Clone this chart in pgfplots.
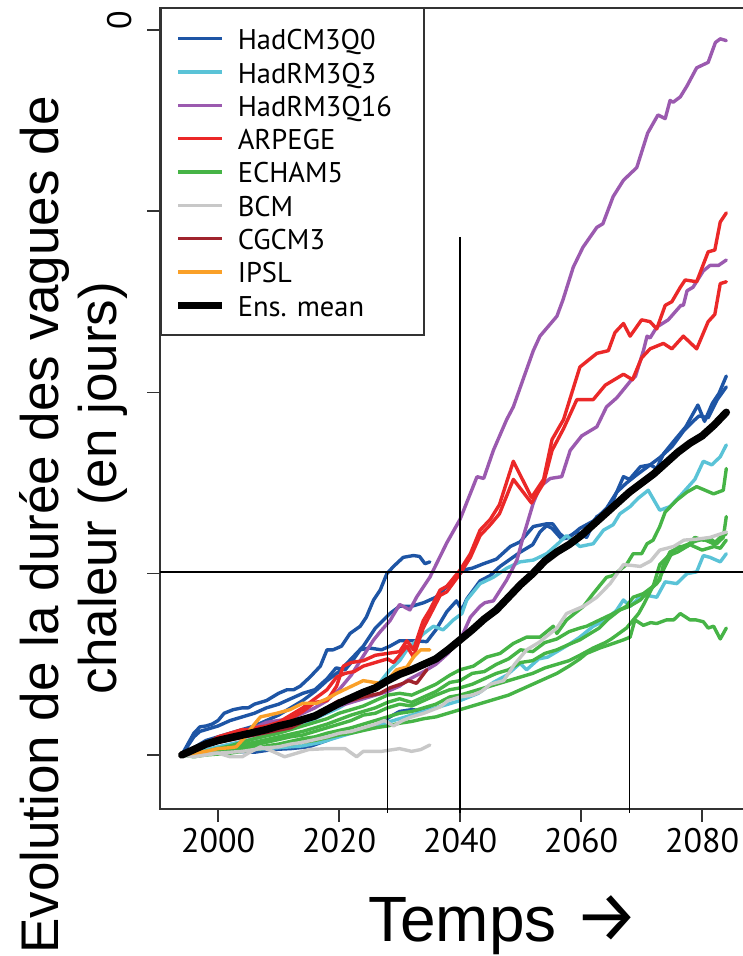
\documentclass[border=0pt]{standalone}
\usepackage{pgfplots}
\pgfplotsset{compat=1.18}
\usepackage{fontspec}
\setmainfont{Liberation Sans}
\newfontfamily\ptsans{PT Sans}
\newfontfamily\arrowfont{Fira Sans}
\definecolor{hadcm}{RGB}{30,85,165}
\definecolor{hadrmA}{RGB}{90,195,215}
\definecolor{hadrmB}{RGB}{155,90,175}
\definecolor{arpege}{RGB}{235,40,40}
\definecolor{echam}{RGB}{70,180,70}
\definecolor{bcm}{RGB}{200,200,200}
\definecolor{cgcm}{RGB}{160,35,45}
\definecolor{ipsl}{RGB}{250,160,40}
\pgfplotsset{mod/.style={line width=3.4pt, line join=round, line cap=round, forget plot}}
\begin{document}
\begin{tikzpicture}
\useasboundingbox (0pt,0pt) rectangle (742pt,956pt);
\begin{axis}[
  at={(160pt,147pt)}, anchor=south west,
  scale only axis, width=602.6pt, height=801pt,
  xmin=1990.4, xmax=2090, ymin=-2.98, ymax=41.2,
  xtick={2000,2020,2040,2060,2080},
  xticklabels={2000,2020,2040,2060,2080},
  ytick={0,10,20,30,40},
  yticklabels={,,,,{\phantom{4}0}},
  tick align=outside, tick pos=left,
  major tick length=13pt,
  tick style={line width=1.6pt, color=black!80},
  axis line style={line width=1.6pt, color=black!80},
  ticklabel style={font=\ptsans\fontsize{34}{34}\selectfont},
  xticklabel shift=3pt,
  yticklabel style={rotate=90, anchor=south},
  yticklabel shift=12pt,
  clip=false,
  legend cell align=left,
  legend image code/.code={\draw[#1] (0pt,0pt) -- (44pt,0pt);},
  legend style={at={(0,1)}, anchor=north west, draw=black!80, line width=1.5pt,
    fill=white, inner xsep=14pt, inner ysep=17pt, row sep=7.3pt, column sep=12pt,
    font=\ptsans\fontsize{28.5}{28.5}\selectfont,
    nodes={inner sep=0pt, text height=24pt, text depth=2pt}},
]
\addlegendimage{hadcm, line width=3.4pt}
\addlegendentry{\makebox[172pt][l]{HadCM3Q0}}
\addlegendimage{hadrmA, line width=3.4pt}
\addlegendentry{HadRM3Q3}
\addlegendimage{hadrmB, line width=3.4pt}
\addlegendentry{HadRM3Q16}
\addlegendimage{arpege, line width=3.4pt}
\addlegendentry{ARPEGE}
\addlegendimage{echam, line width=3.4pt}
\addlegendentry{ECHAM5}
\addlegendimage{bcm, line width=3.4pt}
\addlegendentry{BCM}
\addlegendimage{cgcm, line width=3.4pt}
\addlegendentry{CGCM3}
\addlegendimage{ipsl, line width=3.4pt}
\addlegendentry{IPSL}
\addlegendimage{black, line width=7pt}
\addlegendentry{Ens. mean}

% HadCM3Q0
\addplot[mod, hadcm] coordinates {(1994,0)(1995,0.6)(1996,1.2)(1997,1.55)(1998,1.6)(1999,1.7)(2000,1.9)(2001,2.3)(2002.5,2.5)(2004,2.6)(2005,2.6)(2006,2.8)(2008,3.0)(2010,3.4)(2011.4,3.6)(2012.5,3.6)(2013.6,3.8)(2015.2,4.3)(2016.9,4.9)(2018,5.8)(2019,5.8)(2020.4,6.0)(2021.8,6.7)(2023.5,7.1)(2024.5,7.6)(2025.7,8.55)(2026.8,9.1)(2027.9,10.0)(2029,10.4)(2030.6,10.9)(2032.3,11.0)(2033.3,10.95)(2034.2,10.55)(2035,10.65)};
\addplot[mod, hadcm] coordinates {(1994,0)(1995,0.5)(1996,1.0)(1997,1.3)(1998,1.4)(2000,1.6)(2002,1.9)(2004,2.1)(2006,2.3)(2008,2.6)(2010,2.8)(2012,3.1)(2014,3.4)(2016,3.6)(2018,4.2)(2019.5,4.8)(2021,4.7)(2022,5.1)(2023.5,5.8)(2025,5.9)(2027,5.8)(2028.4,6.0)(2030,6.3)(2032.3,6.3)(2034.5,6.25)(2036,6.9)(2037.8,7.9)(2039.4,8.5)(2040.3,8.0)(2041.1,8.6)(2043.3,9.6)(2045,9.9)(2046.6,10.4)(2048.3,10.8)(2050,11.2)(2052,11.6)(2053.2,12.3)(2054.3,12.65)(2055.2,12.5)(2056.8,11.9)(2058,12.0)(2059.8,12.5)(2062,12.9)(2064.2,13.6)(2065.9,14.5)(2067.5,15.0)(2069,15.4)(2071,15.9)(2073,16.4)(2075,17.0)(2077,17.9)(2078.5,18.4)(2079.5,18.7)(2081,18.6)(2082.5,19.6)(2084,20.3)};
\addplot[mod, hadcm] coordinates {(1994,0)(1996,0.4)(1998,0.8)(2000,1.0)(2002,1.2)(2004,1.4)(2006,1.6)(2008,1.9)(2010,2.2)(2012,2.6)(2014,3.0)(2016,3.5)(2018,4.1)(2020,4.6)(2022,5.3)(2024,6.0)(2026,7.0)(2028.4,7.8)(2030,8.2)(2032,8.2)(2034,8.4)(2036,8.7)(2037.8,9.3)(2039,9.6)(2040.5,10.2)(2042,10.3)(2043.9,10.55)(2046,10.8)(2048.3,11.5)(2049.9,11.75)(2052.1,12.6)(2054.3,12.75)(2055.3,12.75)(2056.5,12.2)(2057.4,11.95)(2059.3,12.3)(2060.9,12.0)(2062.6,13.15)(2063.7,13.3)(2065.3,14.05)(2067,15.35)(2068,15.2)(2069.8,15.9)(2071.4,16.0)(2072.5,15.8)(2073.6,16.6)(2075.3,17.3)(2077.3,18.1)(2079.3,19.3)(2080.4,18.4)(2081.7,19.4)(2082.8,19.95)(2084,20.9)};
\addplot[mod, hadcm] coordinates {(1994,0)(1996,0.1)(1998,0.05)(2000,0.1)(2003,0.2)(2006,0.15)(2009,0.3)(2012,0.35)(2015,0.45)(2018,0.8)(2021,1.2)(2024,1.45)(2026,1.6)(2028.4,2.1)(2030,2.4)(2032,2.5)(2033.5,2.45)(2035,2.6)};
% HadRM3Q3
\addplot[mod, hadrmA] coordinates {(1994,0)(1996,0.15)(1998,0.3)(2000,0.45)(2002,0.6)(2004,0.75)(2006,0.9)(2008,1.1)(2010,1.3)(2012,1.5)(2014,1.7)(2016,2.0)(2018,2.3)(2020,2.6)(2022,3.0)(2024,3.3)(2025,3.6)(2026.5,3.9)(2028.4,4.7)(2030,5.2)(2031,5.7)(2032.3,6.15)(2034,6.7)(2035.6,7.1)(2037.2,6.9)(2038.9,7.45)(2040.3,7.8)(2041.1,8.55)(2043.3,9.45)(2045.5,9.8)(2047.7,10.3)(2049.9,10.65)(2052.1,10.75)(2054.3,11.1)(2056,11.6)(2057.6,12.1)(2059.8,11.5)(2062,11.65)(2063.7,12.4)(2065.3,12.7)(2066.4,13.3)(2068.1,13.7)(2069.4,14.15)(2071.1,14.6)(2073,13.5)(2074.7,13.7)(2076.4,14.3)(2078.8,15.2)(2080.2,16.2)(2081.6,16.0)(2083,16.45)(2084,17.1)};
\addplot[mod, hadrmA] coordinates {(1994,0)(1996,0.05)(1998,0.1)(2000,0.15)(2002,0.2)(2004,0.25)(2006,0.3)(2008,0.35)(2010,0.4)(2012,0.45)(2014,0.5)(2017,0.7)(2020,1.0)(2022,1.2)(2024,1.4)(2026,1.5)(2028,1.8)(2030,2.0)(2032,2.2)(2034,2.4)(2036,2.6)(2038,2.8)(2040,3.0)(2043,3.4)(2045.5,4.0)(2047.7,4.4)(2049.9,5.05)(2051,4.7)(2053,5.3)(2054.5,5.4)(2056.5,5.8)(2058,6.1)(2059.8,6.5)(2062,7.1)(2064.2,7.45)(2065.9,8.0)(2067,8.55)(2068.1,8.2)(2070,8.8)(2070.9,8.8)(2072.5,8.7)(2073.9,9.55)(2075.8,9.45)(2077.5,10.0)(2079.1,10.1)(2080.2,11.0)(2081.3,10.9)(2083,10.65)(2084,11.1)};
% HadRM3Q16
\addplot[mod, hadrmB] coordinates {(1994,0)(1996,0.3)(1998,0.6)(2000,0.8)(2002,1.0)(2004,1.2)(2006,1.5)(2008,1.8)(2010,1.9)(2012,2.0)(2014,2.3)(2016,2.6)(2018,3.0)(2020,3.6)(2022,4.4)(2023.5,5.2)(2025.7,6.34)(2026.8,6.8)(2028.4,7.4)(2030,8.3)(2031.7,8.0)(2032.8,8.7)(2035,9.8)(2037.8,11.7)(2040,13.0)(2042.8,15.35)(2043.9,15.25)(2045.5,16.8)(2047.7,18.5)(2048.8,19.2)(2050.5,20.8)(2052.1,22.3)(2053.2,23.1)(2056,24.2)(2057,25.1)(2058.7,26.9)(2060.3,28.0)(2062.6,29.1)(2063.6,29.3)(2065.3,30.8)(2067,31.7)(2069.2,32.4)(2071,34.3)(2072.7,35.3)(2073.9,35.1)(2074.7,36.1)(2075.2,36.0)(2076.4,36.3)(2077.5,36.9)(2079.1,37.9)(2081,38.2)(2082.2,39.3)(2083,39.5)(2084,39.4)};
\addplot[mod, hadrmB] coordinates {(1994,0)(1996,0.2)(1998,0.5)(2000,0.7)(2002,0.9)(2004,1.1)(2006,1.3)(2008,1.6)(2010,1.8)(2012,1.9)(2014,2.0)(2016,2.2)(2018,2.4)(2020,2.7)(2022,2.9)(2024,3.1)(2026,3.3)(2028,3.5)(2030,3.8)(2031.2,4.1)(2032.3,4.3)(2034,4.6)(2036,5.0)(2038,5.6)(2040,6.4)(2040.5,6.7)(2041.7,7.6)(2043.3,8.2)(2044.1,8.4)(2045.5,8.5)(2047.7,9.65)(2049.4,10.75)(2050.4,12.0)(2052.1,13.9)(2053.2,14.8)(2054.9,15.25)(2056.8,15.35)(2058.2,16.8)(2060.1,17.6)(2062.6,18.1)(2064.2,19.2)(2065.9,19.7)(2068.1,20.6)(2069,20.9)(2070.3,22.3)(2070.9,23.1)(2071.4,23.0)(2072.5,23.6)(2074.4,24.0)(2076.5,24.8)(2076.9,24.8)(2077.5,25.6)(2078.5,25.8)(2080.2,26.7)(2081.3,27.0)(2082.7,27.0)(2084,27.3)};
% ARPEGE
\addplot[mod, arpege] coordinates {(1994,0)(1996,0.3)(1998,0.6)(2000,1.0)(2002,1.2)(2004,1.4)(2006,1.4)(2008,1.5)(2010,1.6)(2012,2.0)(2014,2.4)(2016,2.9)(2018,3.0)(2019.6,3.8)(2020.7,4.9)(2022,5.1)(2024,5.2)(2026,5.5)(2028,5.6)(2030,5.7)(2031.2,6.3)(2032.3,5.8)(2033.9,7.4)(2035,8.0)(2036.7,9.1)(2037.8,9.3)(2040,10.2)(2041.7,11.1)(2043.3,12.4)(2045,13.0)(2046.5,13.8)(2048.8,16.2)(2051.8,14.2)(2053.8,15.2)(2055.2,17.4)(2057.1,18.5)(2059.8,21.4)(2062.6,22.15)(2064.5,22.3)(2065.6,23.3)(2067,23.8)(2068.1,23.1)(2070,24.0)(2071.4,23.9)(2072.5,23.5)(2073.9,24.8)(2075,25.0)(2076.4,25.8)(2077.2,26.2)(2079.1,26.1)(2081,27.75)(2082.1,27.85)(2083,29.4)(2084,29.9)};
\addplot[mod, arpege] coordinates {(1994,0)(1996,0.2)(1998,0.5)(2000,0.8)(2002,1.1)(2004,1.3)(2006,1.5)(2008,1.6)(2010,1.8)(2012,2.2)(2014,2.6)(2016,3.1)(2018,3.6)(2019.6,4.3)(2021,4.5)(2022.5,4.6)(2024,4.9)(2026,5.1)(2028,5.3)(2029,5.1)(2030,5.5)(2031.2,6.0)(2032.3,5.4)(2033.9,7.0)(2035,7.7)(2036.7,8.8)(2037.8,9.0)(2040,10.0)(2041.7,10.9)(2043.3,12.1)(2045,12.7)(2046.5,13.3)(2048.8,15.2)(2051.8,13.9)(2053.8,15.0)(2055.2,16.8)(2057.1,18.0)(2059.3,19.6)(2062,19.6)(2064,20.4)(2067,21.0)(2068.5,20.7)(2070,21.9)(2071.4,22.4)(2073.6,22.7)(2075,22.4)(2076.9,23.1)(2079.1,22.4)(2081,23.9)(2082.1,24.3)(2083,26.0)(2084,26.1)};
% ECHAM5
\addplot[mod, echam] coordinates {(1994,0)(1996,0.1)(1998,0.2)(2000,0.35)(2002,0.5)(2004,0.7)(2006,0.9)(2008,1.05)(2010,1.2)(2012,1.4)(2014,1.6)(2016,1.8)(2018,2.0)(2020,2.3)(2022,2.5)(2024,2.7)(2026,3.0)(2028,3.3)(2030,3.4)(2032,3.3)(2034,3.6)(2036,3.9)(2038.3,4.4)(2040,4.7)(2042.2,4.9)(2044.4,5.4)(2046.6,5.6)(2048.8,6.15)(2051,6.5)(2053.2,6.5)(2055.4,7.1)(2056,6.7)(2057.6,7.45)(2060.4,8.2)(2062,8.9)(2064.2,9.8)(2065.3,9.9)(2067.5,10.5)(2068.6,11.1)(2070,11.1)(2070.9,11.65)(2071.9,11.85)(2073,12.6)(2073.9,13.4)(2075.8,14.05)(2077.5,14.5)(2079.1,14.8)(2080.5,14.6)(2081.9,14.4)(2083.5,14.6)(2084,15.8)};
\addplot[mod, echam] coordinates {(1994,0)(1996,0.05)(1998,0.15)(2000,0.25)(2002,0.4)(2004,0.55)(2006,0.7)(2008,0.85)(2010,1.0)(2012,1.15)(2014,1.3)(2016,1.5)(2018,1.7)(2020,1.95)(2022,2.2)(2024,2.4)(2026,2.6)(2028,2.9)(2030,3.1)(2032,2.9)(2034,3.2)(2036,3.5)(2038.3,4.0)(2040,4.1)(2042,4.5)(2044,4.6)(2046,5.0)(2048,5.3)(2050,5.8)(2052,5.7)(2054,6.2)(2056,6.4)(2058,6.8)(2059.8,7.0)(2060.9,7.1)(2063.1,7.45)(2065.3,7.8)(2067.5,8.2)(2068.6,8.7)(2070.3,8.9)(2072.5,9.45)(2073,9.8)(2074.7,10.95)(2075.8,11.5)(2077.5,11.5)(2078.8,12.0)(2080.2,11.85)(2081.5,11.9)(2082.4,11.65)(2083.5,12.0)(2084,13.15)};
\addplot[mod, echam] coordinates {(1994,0)(1996,0.1)(1998,0.1)(2000,0.2)(2002,0.3)(2004,0.45)(2006,0.55)(2008,0.7)(2010,0.85)(2012,1.0)(2014,1.1)(2016,1.3)(2018,1.5)(2020,1.7)(2022,1.9)(2024,2.2)(2026,2.3)(2028,2.6)(2030,2.8)(2032,2.7)(2034,3.0)(2036,3.3)(2038.3,3.6)(2040,3.7)(2042,3.9)(2044,4.2)(2046,4.5)(2048,4.7)(2050,5.1)(2052,5.2)(2054,5.6)(2056,5.8)(2058,6.1)(2059.8,6.35)(2061.5,6.7)(2063,7.0)(2064.5,7.5)(2066.4,8.0)(2068,8.2)(2069.8,8.55)(2071,9.0)(2072,9.3)(2073,9.65)(2073.6,10.5)(2074.7,11.2)(2076,11.4)(2077.5,11.6)(2079,11.8)(2080.2,11.9)(2081.9,11.65)(2083,12.0)(2084,12.2)};
\addplot[mod, echam] coordinates {(1994,0)(1996,0.05)(1998,0.1)(2000,0.15)(2002,0.2)(2004,0.3)(2006,0.4)(2008,0.5)(2010,0.6)(2012,0.75)(2014,0.9)(2016,1.0)(2018,1.2)(2020,1.35)(2022,1.5)(2024,1.7)(2026,1.9)(2028,2.1)(2030,2.3)(2032,2.4)(2034,2.6)(2036,2.8)(2038.3,3.2)(2040,3.3)(2042,3.5)(2044,3.7)(2046,3.9)(2048,4.1)(2050,4.3)(2052,4.5)(2054,4.8)(2056,5.0)(2058,5.2)(2059.8,5.5)(2062,5.9)(2064,6.2)(2065,6.4)(2067.5,7.0)(2069.5,7.8)(2070.5,8.4)(2072,9.4)(2073,10.5)(2074.5,11.0)(2076,11.2)(2078,11.6)(2080,11.3)(2082,11.5)(2083,11.4)(2084,11.85)};
\addplot[mod, echam] coordinates {(1994,0)(1996,-0.1)(1998,0.0)(2000,0.05)(2002,0.1)(2004,0.2)(2006,0.3)(2008,0.4)(2010,0.5)(2012,0.6)(2014,0.7)(2016,0.8)(2018,0.95)(2020,1.1)(2022,1.2)(2024,1.35)(2026,1.5)(2028,1.6)(2030,1.75)(2032,1.85)(2034,2.0)(2036,2.1)(2038,2.3)(2040,2.5)(2042,2.7)(2044,2.9)(2046,3.1)(2048,3.3)(2050,3.6)(2052,3.9)(2054,4.2)(2056,4.5)(2058,4.9)(2059.8,5.3)(2060.9,5.6)(2063.1,5.9)(2065.3,6.15)(2067,6.35)(2068.1,6.5)(2068.9,7.45)(2070.3,7.15)(2071.5,7.3)(2072.5,7.25)(2074.1,7.45)(2075.3,7.45)(2076.4,7.8)(2078,7.45)(2079,7.45)(2080.2,7.35)(2081,7.0)(2081.9,7.1)(2083,6.4)(2084,7.0)};
% BCM
\addplot[mod, bcm] coordinates {(1994,0)(1996,0.05)(1998,0.1)(2000,0.1)(2002,0.15)(2004,0.2)(2006,0.3)(2008,0.4)(2010,0.45)(2012,0.6)(2014,0.7)(2016,0.85)(2018,1.0)(2020,1.2)(2022,1.3)(2024,1.5)(2026,1.7)(2027.5,1.9)(2029,1.6)(2030.5,1.9)(2032,2.1)(2034,2.3)(2036.7,2.65)(2038,3.0)(2040,3.2)(2042,3.3)(2043.5,3.5)(2045,3.9)(2047.2,4.1)(2049,5.0)(2051,5.8)(2053,6.2)(2054.9,6.7)(2056,7.0)(2057.6,7.8)(2060.4,8.2)(2062.6,8.7)(2064.8,9.45)(2067,10.5)(2068.5,10.45)(2069.8,10.4)(2071.5,10.7)(2073,11.3)(2075.3,11.5)(2077,11.85)(2079,11.9)(2081.3,12.0)(2084,12.3)};
\addplot[mod, bcm] coordinates {(1994,0)(1996,-0.1)(1998,0)(2000,0.1)(2002,-0.1)(2004,-0.1)(2005,0.1)(2007,0.45)(2009,0.2)(2011,-0.1)(2013,0.1)(2015,0.3)(2018,0.35)(2021,0.35)(2022.9,-0.1)(2024,0.2)(2027,0.2)(2030,0.35)(2032,0.2)(2033.5,0.3)(2035,0.55)};
% CGCM3
\addplot[mod, cgcm] coordinates {(1994,0)(1997,0.4)(2000,0.7)(2003,0.9)(2006,1.1)(2009,1.3)(2012,1.5)(2015,2.0)(2018,2.6)(2020,3.0)(2022,3.0)(2024,3.2)(2026.8,3.4)(2028.4,3.7)(2030.6,3.95)(2031.5,4.1)(2032.8,3.95)(2034.5,4.7)};
% IPSL
\addplot[mod, ipsl] coordinates {(1994,0)(1996,0.1)(1998,0.2)(2000,0.35)(2002,0.4)(2003,0.45)(2004.5,1.0)(2005.3,1.4)(2006,1.7)(2007,2.1)(2009.7,2.3)(2011.9,2.5)(2014,2.85)(2016.3,2.85)(2018,3.1)(2019.6,3.4)(2021.8,3.75)(2024,4.1)(2026.8,3.95)(2027.9,4.1)(2029.5,4.7)(2031.2,4.85)(2032.3,5.4)(2033.5,5.8)(2035,5.8)};
% reference lines
\addplot[forget plot, black, line width=1.8pt] coordinates {(1990.4,10.1)(2090,10.1)};
\addplot[forget plot, black, line width=1.8pt] coordinates {(2028,10.1)(2028,-3.2)};
\addplot[forget plot, black, line width=1.8pt] coordinates {(2040,28.57)(2040,-3.2)};
\addplot[forget plot, black, line width=1.8pt] coordinates {(2068,10.1)(2068,-3.2)};
% Ensemble mean
\addplot[forget plot, black, line width=7.5pt, line join=round, line cap=round] coordinates {(1994,0)(1996,0.3)(1998,0.6)(2000,0.8)(2002,0.95)(2004,1.1)(2006,1.25)(2008,1.4)(2010,1.6)(2012,1.75)(2014,1.95)(2016,2.15)(2018,2.5)(2020,2.85)(2022,3.15)(2024,3.45)(2026,3.7)(2028,4.1)(2030,4.45)(2032,4.7)(2034,5.0)(2036,5.3)(2038,5.8)(2040,6.35)(2042,6.9)(2044,7.5)(2046,8.0)(2048,8.7)(2050,9.4)(2052,10.0)(2054,10.7)(2056,11.2)(2058,11.6)(2060,12.1)(2062,12.7)(2064,13.3)(2066,13.9)(2068,14.5)(2070,15.0)(2072,15.5)(2074,16.1)(2076,16.7)(2078,17.2)(2080,17.6)(2082,18.2)(2084,18.9)};
\end{axis}
\node[rotate=90, anchor=base, font=\fontsize{53}{53}\selectfont] at (58pt,431pt) {Evolution de la durée des vagues de};
\node[rotate=90, anchor=base, font=\fontsize{53}{53}\selectfont] at (116pt,468pt) {chaleur (en jours)};
\node[anchor=base west, inner sep=0pt, font=\fontsize{64}{64}\selectfont] at (368pt,14pt) {Temps {\arrowfont\fontsize{72}{72}\selectfont →}};
\end{tikzpicture}
\end{document}
